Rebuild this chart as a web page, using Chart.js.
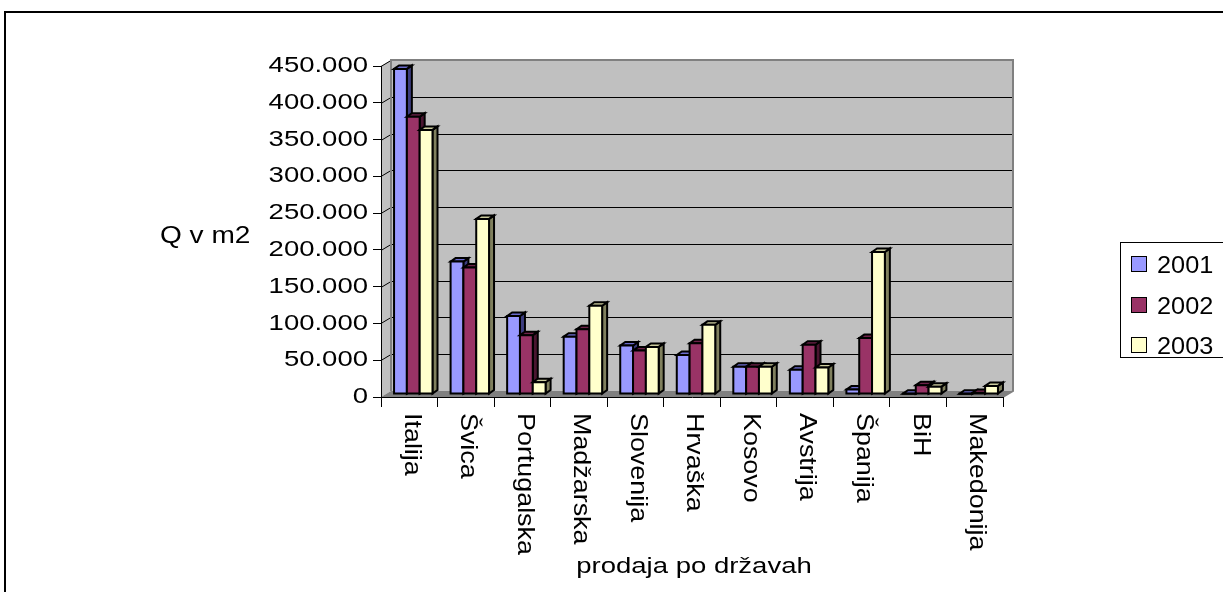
<!DOCTYPE html>
<html>
<head>
<meta charset="utf-8">
<script src="https://cdn.jsdelivr.net/npm/chart.js@4.4.1/dist/chart.umd.min.js"></script>
<style>
  html, body { margin: 0; padding: 0; background: #fff; }
  canvas { display: block; }
</style>
</head>
<body>
<canvas id="chart" width="1223" height="592"></canvas>
<script>
const countries = ['Italija', 'Švica', 'Portugalska', 'Madžarska', 'Slovenija', 'Hrvaška', 'Kosovo', 'Avstrija', 'Španija', 'BiH', 'Makedonija'];
const years = ['2001', '2002', '2003'];
const q2001 = [442000, 180000, 106000, 78000, 66000, 53000, 37000, 33000, 6000, 500, 300];
const q2002 = [377000, 172000, 80000, 88000, 59000, 69000, 37000, 67000, 76000, 12000, 1500];
const q2003 = [359000, 238000, 16000, 120000, 64000, 94000, 37000, 36000, 193000, 10000, 11000];
const yTickValues = [0, 50000, 100000, 150000, 200000, 250000, 300000, 350000, 400000, 450000];
const yTitle = 'Q v m2';
const xTitle = 'prodaja po državah';

// colours of the 3D boxes: front, top, side
const frontColors = ['#9999FF', '#993366', '#FFFFCC'];
const topColors = ['#6B6BCC', '#6E2249', '#CCCC9E'];
const sideColors = ['#3D3D80', '#4A1530', '#80805E'];

const FONT = '"Liberation Sans", Arial, sans-serif';
const WALL = { x: 10, y: -6 };     // depth of the back wall
const BAR_OFF = { x: 4, y: -3 };   // bars sit in the middle of the floor
const BAR_DEPTH = { x: 5, y: -3.5 };

function fmt(v) {
  return String(v).replace(/\B(?=(\d{3})+(?!\d))/g, '.');
}

function stretchText(ctx, text, x, y, sx, size, align, baseline) {
  ctx.save();
  ctx.translate(x, y);
  ctx.scale(sx, 1);
  ctx.font = size + 'px ' + FONT;
  ctx.fillStyle = '#000';
  ctx.textAlign = align;
  ctx.textBaseline = baseline;
  ctx.fillText(text, 0, 0);
  ctx.restore();
}

const box3d = {
  id: 'box3d',
  afterLayout(chart) {
    // wide letters for the value labels, like the original
    const ys = chart.scales.y;
    if (ys._wide) return;
    const orig = ys.drawLabels;
    ys.drawLabels = function (area) {
      const c = this.ctx;
      const ax = this.right - 8 - 5;
      c.save();
      c.translate(ax, 0);
      c.scale(1.25, 1);
      c.translate(-ax, 0);
      orig.call(this, area);
      c.restore();
    };
    ys._wide = true;
  },
  beforeDraw(chart) {
    const { ctx, chartArea: a } = chart;
    const ys = chart.scales.y;
    ctx.save();
    ctx.fillStyle = '#fff';
    ctx.fillRect(0, 0, chart.width, chart.height);

    // back wall
    ctx.fillStyle = '#C0C0C0';
    ctx.fillRect(a.left + WALL.x, a.top + WALL.y, a.right - a.left, a.bottom - a.top);
    // left wall
    ctx.beginPath();
    ctx.moveTo(a.left, a.top);
    ctx.lineTo(a.left + WALL.x, a.top + WALL.y);
    ctx.lineTo(a.left + WALL.x, a.bottom + WALL.y);
    ctx.lineTo(a.left, a.bottom);
    ctx.closePath();
    ctx.fillStyle = '#C0C0C0';
    ctx.fill();
    // floor
    ctx.beginPath();
    ctx.moveTo(a.left, a.bottom);
    ctx.lineTo(a.left + WALL.x, a.bottom + WALL.y);
    ctx.lineTo(a.right + WALL.x, a.bottom + WALL.y);
    ctx.lineTo(a.right, a.bottom);
    ctx.closePath();
    ctx.fillStyle = '#808080';
    ctx.fill();

    // grid lines on the walls
    ys.ticks.forEach(t => {
      if (t.value === 0) return;
      const y = Math.round(ys.getPixelForValue(t.value)) + 0.5;
      ctx.beginPath();
      ctx.moveTo(a.left, y);
      ctx.lineTo(a.left + WALL.x, y + WALL.y);
      if (t.value !== ys.max) ctx.lineTo(a.right + WALL.x, y + WALL.y);
      ctx.strokeStyle = '#000';
      ctx.lineWidth = 1;
      ctx.stroke();
    });
    // wall edges
    ctx.strokeStyle = '#808080';
    ctx.lineWidth = 2;
    ctx.beginPath();
    ctx.moveTo(a.left + WALL.x, a.bottom + WALL.y);
    ctx.lineTo(a.left + WALL.x, a.top + WALL.y);
    ctx.lineTo(a.right + WALL.x, a.top + WALL.y);
    ctx.lineTo(a.right + WALL.x, a.bottom + WALL.y);
    ctx.lineTo(a.right, a.bottom);
    ctx.stroke();
    ctx.restore();
  },
  beforeDatasetsDraw(chart) {
    const ctx = chart.ctx;
    ctx.save();
    ctx.lineWidth = 2;
    ctx.lineJoin = 'miter';
    ctx.strokeStyle = '#000';
    const metas = chart.data.datasets.map((d, i) => chart.getDatasetMeta(i));
    for (let j = 0; j < chart.data.labels.length; j++) {
      metas.forEach((meta, i) => {
        const bar = meta.data[j];
        const { x, y, base, width } = bar.getProps(['x', 'y', 'base', 'width'], true);
        const x0 = x - width / 2 + BAR_OFF.x, x1 = x + width / 2 + BAR_OFF.x;
        const yT = y + BAR_OFF.y, yB = base + BAR_OFF.y;
        const dx = BAR_DEPTH.x, dy = BAR_DEPTH.y;
        // side
        ctx.beginPath();
        ctx.moveTo(x1, yT); ctx.lineTo(x1 + dx, yT + dy); ctx.lineTo(x1 + dx, yB + dy); ctx.lineTo(x1, yB);
        ctx.closePath();
        ctx.fillStyle = sideColors[i]; ctx.fill(); ctx.stroke();
        // top
        ctx.beginPath();
        ctx.moveTo(x0, yT); ctx.lineTo(x0 + dx, yT + dy); ctx.lineTo(x1 + dx, yT + dy); ctx.lineTo(x1, yT);
        ctx.closePath();
        ctx.fillStyle = topColors[i]; ctx.fill(); ctx.stroke();
        // front
        ctx.beginPath();
        ctx.rect(x0, yT, x1 - x0, yB - yT);
        ctx.fillStyle = frontColors[i]; ctx.fill(); ctx.stroke();
      });
    }
    ctx.restore();
    return false;
  },
  afterDraw(chart) {
    const { ctx, chartArea: a } = chart;
    const xs = chart.scales.x;

    // category labels, turned to read downwards
    chart.data.labels.forEach((lab, i) => {
      const cx = xs.getPixelForValue(i) + 2;
      ctx.save();
      ctx.translate(cx, a.bottom + 16);
      ctx.rotate(Math.PI / 2);
      ctx.scale(1.12, 1);
      ctx.font = '24px ' + FONT;
      ctx.fillStyle = '#000';
      ctx.textAlign = 'left';
      ctx.textBaseline = 'middle';
      ctx.fillText(lab, 0, 0);
      ctx.restore();
    });

    stretchText(ctx, yTitle, 160, 243, 1.22, 23, 'left', 'alphabetic');
    stretchText(ctx, xTitle, 694, 567, 1.25, 22, 'center', 'middle');

    // legend
    ctx.save();
    ctx.strokeStyle = '#000';
    ctx.lineWidth = 1;
    ctx.strokeRect(1120.5, 242.5, 120, 115);
    const rows = [264, 305, 345];
    chart.data.datasets.forEach((ds, i) => {
      const cy = rows[i];
      ctx.fillStyle = frontColors[i];
      ctx.fillRect(1131.5, cy - 7.5, 15, 15);
      ctx.strokeRect(1131.5, cy - 7.5, 15, 15);
      stretchText(ctx, ds.label, 1157, cy + 8.5, 1.1, 23, 'left', 'alphabetic');
    });
    ctx.restore();

    // frame of the picture
    ctx.save();
    ctx.strokeStyle = '#000';
    ctx.lineWidth = 2;
    ctx.beginPath();
    ctx.moveTo(5, 592);
    ctx.lineTo(5, 12);
    ctx.lineTo(1223, 12);
    ctx.stroke();
    ctx.restore();
  }
};

const chart = new Chart(document.getElementById('chart'), {
  type: 'bar',
  data: {
    labels: countries,
    datasets: [q2001, q2002, q2003].map((d, i) => ({
      label: years[i],
      data: d,
      backgroundColor: frontColors[i],
      borderWidth: 0,
      categoryPercentage: 0.68,
      barPercentage: 1.0
    }))
  },
  options: {
    responsive: false,
    animation: false,
    layout: { padding: { top: 66, right: 220, bottom: 0, left: 0 } },
    plugins: { legend: { display: false }, tooltip: { enabled: false } },
    scales: {
      x: {
        offset: true,
        ticks: { display: false },
        grid: { offset: true, drawOnChartArea: false, drawTicks: true, tickLength: 10, color: '#000', lineWidth: 1 },
        border: { color: '#000', width: 1 },
        afterFit: s => { s.height = 195; }
      },
      y: {
        min: 0,
        max: 450000,
        afterBuildTicks: s => { s.ticks = yTickValues.map(v => ({ value: v })); },
        ticks: {
          padding: 5,
          color: '#000',
          font: { family: FONT, size: 22 },
          callback: v => fmt(v)
        },
        grid: { drawOnChartArea: false, drawTicks: true, tickLength: 8, color: '#000', lineWidth: 1 },
        border: { color: '#000', width: 1 },
        afterFit: s => { s.width = 381; }
      }
    }
  },
  plugins: [box3d]
});
</script>
</body>
</html>
